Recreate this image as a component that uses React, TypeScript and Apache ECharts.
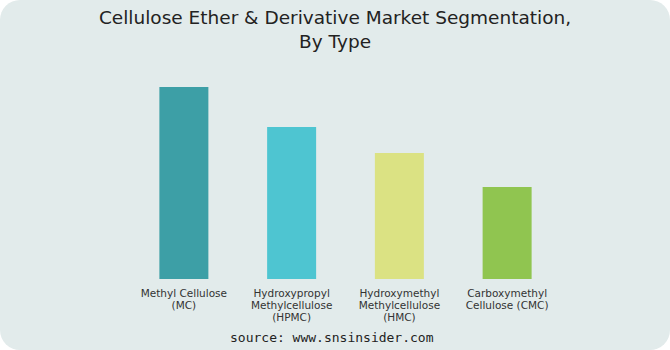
import React, { useEffect, useRef } from "react";
import * as echarts from "echarts";

const categories = [
  "Methyl Cellulose\n(MC)",
  "Hydroxypropyl\nMethylcellulose\n(HPMC)",
  "Hydroxymethyl\nMethylcellulose\n(HMC)",
  "Carboxymethyl\nCellulose (CMC)",
];
const values = [192, 152, 126, 92];
const colors = ["#3d9fa6", "#4ec5d1", "#dbe283", "#90c550"];
const titleText = "Cellulose Ether & Derivative Market Segmentation,\nBy Type";
const sourceText = "source: www.snsinsider.com";

export default function App() {
  const ref = useRef<HTMLDivElement>(null);
  useEffect(() => {
    if (!ref.current) return;
    const chart = echarts.init(ref.current, null, { renderer: "svg" });
    chart.setOption({
      animation: false,
      title: {
        text: titleText,
        left: "center",
        top: 0,
        textStyle: {
          fontFamily: "DejaVu Sans",
          fontWeight: "normal",
          fontSize: 18.5,
          lineHeight: 24,
          color: "#222",
        },
      },
      grid: { left: 130, right: 109, top: 87, bottom: 71 },
      xAxis: {
        type: "category",
        data: categories,
        axisLine: { show: false },
        axisTick: { show: false },
        axisLabel: {
          interval: 0,
          margin: 8,
          fontFamily: "DejaVu Sans",
          fontSize: 10.5,
          lineHeight: 12,
          color: "#333",
        },
      },
      yAxis: {
        type: "value",
        min: 0,
        max: 192,
        show: false,
        splitLine: { show: false },
      },
      series: [
        {
          type: "bar",
          barWidth: 49,
          data: values.map((v, i) => ({ value: v, itemStyle: { color: colors[i] } })),
        },
      ],
      graphic: [
        {
          type: "text",
          left: 230,
          top: 331,
          style: {
            text: sourceText,
            fontFamily: "DejaVu Sans Mono",
            fontSize: 13,
            fill: "#222",
          },
        },
      ],
    });
    return () => chart.dispose();
  }, []);
  return (
    <div style={{ position: "fixed", left: 0, top: 0, width: 670, height: 350, background: "#ffffff" }}>
      <div
        ref={ref}
        style={{ width: 670, height: 350, borderRadius: 20, background: "#e2ebeb", overflow: "hidden" }}
      />
    </div>
  );
}
